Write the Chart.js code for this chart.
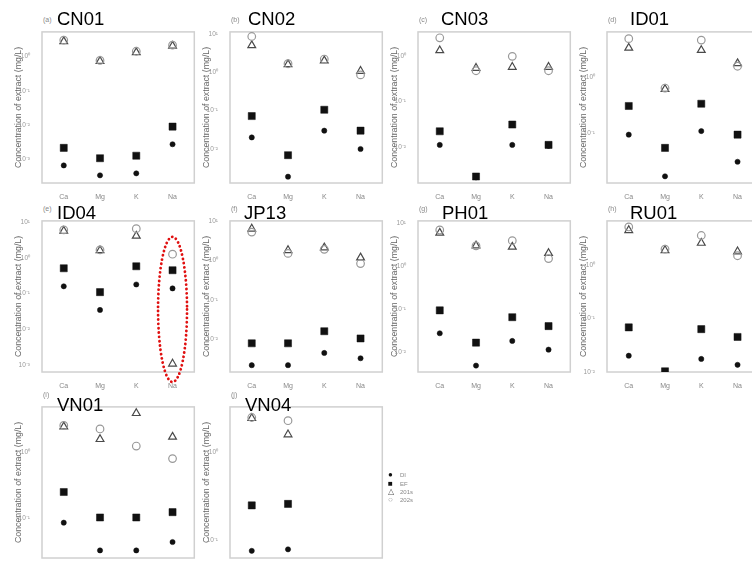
<!DOCTYPE html>
<html>
<head>
<meta charset="utf-8">
<script src="https://cdn.jsdelivr.net/npm/chart.js@4"></script>
<style>
  body { margin: 0; width: 752px; height: 562px; overflow: hidden; background: #fff; position: relative;
         font-family: Arial, "Liberation Sans", sans-serif; }
  canvas { position: absolute; }
  .tag { position: absolute; font-size: 7px; color: #888; line-height: 1; }
  .site { position: absolute; font-size: 18.5px; color: #000; line-height: 1; }
  .leg { position: absolute; font-size: 6px; color: #888; line-height: 1; white-space: nowrap; }
</style>
</head>
<body>
<script>
// categories and panels
const categories = ['Ca', 'Mg', 'K', 'Na'];
const sites = ['CN01', 'CN02', 'CN03', 'ID01', 'ID04', 'JP13', 'PH01', 'RU01', 'VN01', 'VN04'];
const letters = ['a', 'b', 'c', 'd', 'e', 'f', 'g', 'h', 'i', 'j'];
const seriesNames = ['DI', 'EF', '201s', '202s'];

// concentration of extract (mg/L), order Ca, Mg, K, Na
const di = [
  [0.00068, 0.00035, 0.0004, 0.0028],
  [0.020, 0.0019, 0.030, 0.010],
  [0.011, 0.0021, 0.011, 0.0105],
  [0.095, 0.017, 0.11, 0.031],
  [0.16, 0.035, 0.18, 0.14],
  [0.0022, 0.0022, 0.0045, 0.0033],
  [0.028, 0.005, 0.0186, 0.0117],
  [0.020, 0.0100, 0.0174, 0.0135],
  [0.085, 0.032, 0.032, 0.043],
  [0.076, 0.079, null, null]
];
const ef = [
  [0.0022, 0.0011, 0.0013, 0.0091],
  [0.072, 0.0069, 0.105, 0.030],
  [0.022, 0.0022, 0.031, 0.011],
  [0.31, 0.055, 0.34, 0.095],
  [0.51, 0.11, 0.58, 0.45],
  [0.0079, 0.0079, 0.016, 0.0105],
  [0.095, 0.017, 0.066, 0.041],
  [0.068, 0.0102, 0.063, 0.045],
  [0.25, 0.102, 0.102, 0.123],
  [0.25, 0.26, null, null]
];
const s201 = [
  [2.7, 0.72, 1.3, 2.0],
  [5.0, 1.6, 2.0, 1.07],
  [1.35, 0.55, 0.58, 0.58],
  [3.4, 0.62, 3.1, 1.8],
  [5.6, 1.6, 4.1, 0.0011],
  [6.3, 1.8, 2.1, 1.17],
  [5.9, 3.0, 2.8, 2.0],
  [4.5, 1.9, 2.6, 1.8],
  [2.5, 1.6, 4.0, 1.74],
  [2.45, 1.6, null, null]
];
const s202 = [
  [2.95, 0.76, 1.4, 2.1],
  [8.5, 1.66, 2.2, 0.85],
  [2.57, 0.48, 1.0, 0.48],
  [5.0, 0.65, 4.7, 1.6],
  [6.0, 1.66, 6.5, 1.26],
  [5.2, 1.5, 1.9, 0.83],
  [6.9, 2.95, 3.9, 1.5],
  [5.2, 2.0, 3.6, 1.5],
  [2.6, 2.3, 1.26, 0.81],
  [2.5, 2.3, null, null]
];

// y-axis range of each panel (mg/L)
const yMin = [0.00021, 0.0013, 0.00158, 0.0129, 0.00065, 0.00148, 0.00355, 0.0099, 0.0245, 0.063];
const yMax = [5.1, 11.2, 3.47, 6.6, 10.7, 10, 11.2, 6.76, 5.0, 3.3];

// layout
const colLeft = [42, 230, 418, 607];
const rowTop = [28, 217, 403];
const boxW = 154, boxH = 155, axisW = 42, axisH = 18;
const titleDx = [15, 18, 23, 23, 15, 14, 24, 23, 15, 15];
const titleDy = [-1, 4, 10];

const SUP = { '0': '⁰', '1': '¹', '2': '²', '3': '³', '4': '⁴', '5': '⁵', '-': '⁻' };
function sup(n) { return String(n).split('').map(c => SUP[c] || c).join(''); }

function pts(vals) {
  return vals.map((v, i) => v == null ? null : { x: i + 1, y: v }).filter(Boolean);
}

const boxPlugin = {
  id: 'box',
  beforeDatasetsDraw(chart) {
    const { ctx, chartArea: a } = chart;
    ctx.save();
    ctx.strokeStyle = '#d0d0d0';
    ctx.lineWidth = 1.5;
    ctx.strokeRect(a.left, a.top, a.right - a.left, a.bottom - a.top);
    ctx.restore();
  }
};

// red dotted ellipse round the Na column of ID04
const ringPlugin = {
  id: 'ring',
  afterDraw(chart) {
    const { ctx, chartArea: a } = chart;
    const x = chart.scales.x.getPixelForValue(4);
    const top = a.top + 16, bottom = a.bottom + 10;
    ctx.save();
    ctx.strokeStyle = '#e01010';
    ctx.lineWidth = 2.8;
    ctx.lineCap = 'round';
    ctx.setLineDash([0.1, 4.2]);
    ctx.beginPath();
    ctx.ellipse(x, (top + bottom) / 2, 14.5, (bottom - top) / 2, 0, 0, Math.PI * 2);
    ctx.stroke();
    ctx.restore();
  }
};

sites.forEach((site, k) => {
  const col = k % 4, row = Math.floor(k / 4);
  const left = colLeft[col], top = rowTop[row];

  const cv = document.createElement('canvas');
  cv.width = axisW + boxW + 4;
  cv.height = 4 + boxH + axisH;
  cv.style.left = (left - axisW) + 'px';
  cv.style.top = (top - 4) + 'px';
  document.body.appendChild(cv);

  const tag = document.createElement('div');
  tag.className = 'tag';
  tag.textContent = '(' + letters[k] + ')';
  tag.style.left = (left + 1) + 'px';
  tag.style.top = (top - 12) + 'px';
  document.body.appendChild(tag);

  const ttl = document.createElement('div');
  ttl.className = 'site';
  ttl.textContent = site;
  ttl.style.left = (left + titleDx[k]) + 'px';
  ttl.style.top = (top + titleDy[row] - 17) + 'px';
  document.body.appendChild(ttl);

  new Chart(cv, {
    type: 'scatter',
    data: {
      datasets: [
        { label: seriesNames[3], data: pts(s202[k]), pointStyle: 'circle', pointRadius: 3.8,
          borderColor: '#999', backgroundColor: 'rgba(0,0,0,0)', borderWidth: 1.2 },
        { label: seriesNames[2], data: pts(s201[k]), pointStyle: 'triangle', pointRadius: 4.5,
          borderColor: '#4a4a4a', backgroundColor: 'rgba(0,0,0,0)', borderWidth: 1.2 },
        { label: seriesNames[1], data: pts(ef[k]), pointStyle: 'rect', pointRadius: 5,
          borderColor: '#111', backgroundColor: '#111', borderWidth: 0.5 },
        { label: seriesNames[0], data: pts(di[k]), pointStyle: 'circle', pointRadius: 2.6,
          borderColor: '#111', backgroundColor: '#111', borderWidth: 0.5 }
      ]
    },
    options: {
      responsive: false,
      animation: false,
      devicePixelRatio: 1,
      layout: { padding: { top: 4, right: 4, left: 0, bottom: 0 } },
      plugins: { legend: { display: false }, tooltip: { enabled: false } },
      scales: {
        x: {
          type: 'linear', min: 0.4, max: 4.6,
          grid: { display: false }, border: { display: false },
          afterBuildTicks: s => { s.ticks = categories.map((c, i) => ({ value: i + 1 })); },
          afterFit: s => { s.height = axisH; },
          ticks: { autoSkip: false, maxRotation: 0, padding: 2, color: '#888', font: { size: 7 },
                   callback: v => categories[v - 1] }
        },
        y: {
          type: 'logarithmic', min: yMin[k], max: yMax[k],
          grid: { display: false }, border: { display: false },
          afterBuildTicks: s => {
            const t = [];
            const lo = Math.ceil(Math.log10(s.min) - 1e-9), hi = Math.floor(Math.log10(s.max) + 1e-9);
            for (let e = lo; e <= hi; e++) t.push({ value: Math.pow(10, e) });
            s.ticks = t;
          },
          afterFit: s => { s.width = axisW; },
          ticks: { autoSkip: false, padding: 4, color: '#999', font: { size: 6.5 },
                   callback: v => '10' + sup(Math.round(Math.log10(v))) },
          title: { display: true, text: 'Concentration of extract (mg/L)', color: '#666',
                   font: { size: 8.8 }, padding: { top: 13, bottom: 0 } }
        }
      }
    },
    plugins: k === 4 ? [boxPlugin, ringPlugin] : [boxPlugin]
  });
});

// legend
const legGlyph = ['●', '■', '△', '○'];
const legColor = ['#111', '#111', '#555', '#9a9a9a'];
const legY = [475, 484, 492, 500];
seriesNames.forEach((name, i) => {
  const g = document.createElement('div');
  g.className = 'leg';
  g.style.left = '388px';
  g.style.top = (legY[i] - 4) + 'px';
  g.style.fontSize = '8px';
  g.style.color = legColor[i];
  g.textContent = legGlyph[i];
  document.body.appendChild(g);
  const t = document.createElement('div');
  t.className = 'leg';
  t.style.left = '400px';
  t.style.top = (legY[i] - 3) + 'px';
  t.textContent = name;
  document.body.appendChild(t);
});
</script>
</body>
</html>
